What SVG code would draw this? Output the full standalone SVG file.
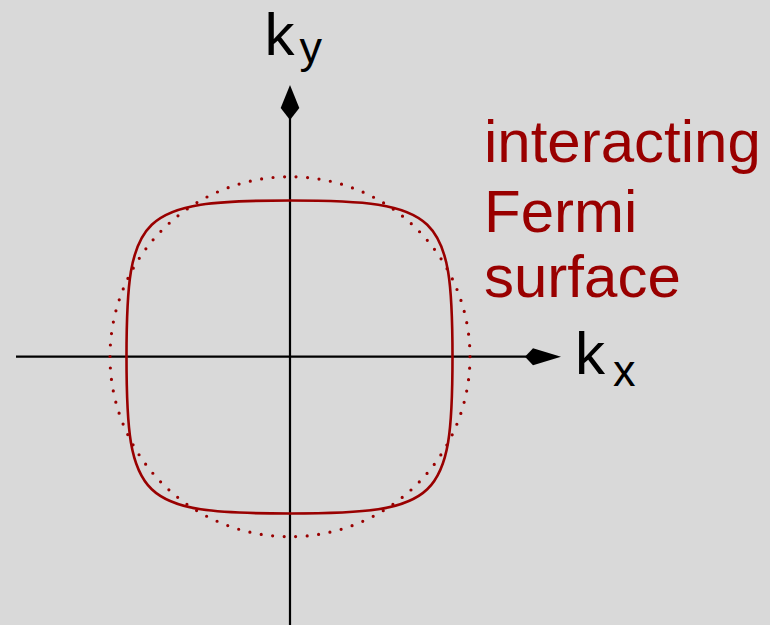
<svg xmlns="http://www.w3.org/2000/svg" width="770" height="625" viewBox="0 0 770 625">
<style>
.axis{stroke:#000;stroke-width:2.2;fill:none}
.head{fill:#000;stroke:none}
.fs{stroke:#990000;stroke-width:2.6;fill:none}
.free{stroke:#990000;stroke-width:3.2;fill:none;stroke-linecap:round;stroke-dasharray:0 11.54}
.lbl{font-family:"Liberation Sans",Arial,sans-serif;fill:#000}
.red{font-family:"Liberation Sans",Arial,sans-serif;fill:#990000;font-size:60px}
</style>
<rect width="770" height="625" fill="#d9d9d9"/>
<g id="connectors">
<line class="axis" x1="16" y1="356.7" x2="527" y2="356.7"/>
<line class="axis" x1="290" y1="625" x2="290" y2="118"/>
<path class="head" d="M561 356.7 L533 348.2 L525 356.7 L533 365.2 Z"/>
<path class="head" d="M290 85 L280.7 108 L290 120 L299.3 108 Z"/>
</g>
<g id="free-fermi-surface">
<circle class="free" cx="290" cy="356.7" r="180"/>
</g>
<g id="interacting-fermi-surface">
<path class="fs" d="M452.5 357 C452.5 213 439.5 200.5 289.5 200.5 C139.5 200.5 126.5 213 126.5 357 C126.5 501 139.5 513.5 289.5 513.5 C439.5 513.5 452.5 501 452.5 357 Z"/>
</g>
<g id="label-ky">
<text class="lbl" x="264.5" y="55" font-size="60">k</text>
<text class="lbl" x="299.5" y="62.7" font-size="45">y</text>
</g>
<g id="label-kx">
<text class="lbl" x="575" y="373.5" font-size="60">k</text>
<text class="lbl" x="613" y="385.7" font-size="45">x</text>
</g>
<g id="label-interacting">
<text class="red" x="484" y="162">interacting</text>
<text class="red" x="484" y="231.7">Fermi</text>
<text class="red" x="484" y="297">surface</text>
</g>
</svg>
